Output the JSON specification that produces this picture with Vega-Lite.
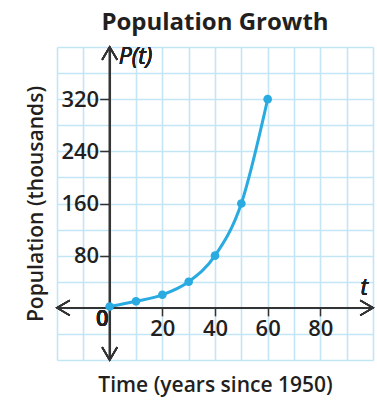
{
  "$schema": "https://vega.github.io/schema/vega-lite/v6.json",
  "autosize": "none",
  "width": 316,
  "height": 313,
  "padding": {"left": 57, "top": 47, "right": 4, "bottom": 44},
  "background": "white",
  "config": {
    "view": {"stroke": null},
    "font": "Open Sans",
    "axis": {"labelFont": "Open Sans", "titleFont": "Open Sans"}
  },
  "title": {
    "text": "Population Growth",
    "font": "Open Sans",
    "fontSize": 24,
    "fontWeight": "bold",
    "color": "#231f20",
    "anchor": "middle",
    "offset": 9
  },
  "data": {
    "values": [
      {"t": 0, "P": 2},
      {"t": 10, "P": 10},
      {"t": 20, "P": 20},
      {"t": 30, "P": 40},
      {"t": 40, "P": 80},
      {"t": 50, "P": 160},
      {"t": 60, "P": 320}
    ]
  },
  "resolve": {"axis": {"x": "independent", "y": "independent"}},
  "layer": [
    {
      "mark": {"type": "line", "interpolate": "monotone", "color": "#29abe2", "strokeWidth": 3},
      "encoding": {
        "x": {
          "field": "t", "type": "quantitative",
          "scale": {"domain": [-20, 100], "nice": false, "zero": false},
          "axis": {
            "orient": "bottom",
            "values": [-20, -10, 0, 10, 20, 30, 40, 50, 60, 70, 80, 90, 100],
            "grid": true, "gridColor": "#c4e5f6", "gridWidth": 1.6, "gridOpacity": 1,
            "labels": false, "ticks": false, "domain": false,
            "title": "Time (years since 1950)",
            "titleFontSize": 21, "titleFontWeight": 600, "titleColor": "#231f20",
            "titlePadding": 14
          }
        },
        "y": {
          "field": "P", "type": "quantitative",
          "scale": {"domain": [-80, 400], "nice": false, "zero": false},
          "axis": {
            "orient": "left",
            "values": [-80, -40, 0, 40, 80, 120, 160, 200, 240, 280, 320, 360, 400],
            "grid": true, "gridColor": "#c4e5f6", "gridWidth": 1.6, "gridOpacity": 1,
            "labels": false, "ticks": false, "domain": false,
            "title": "Population (thousands)",
            "titleFontSize": 21, "titleFontWeight": 600, "titleColor": "#231f20",
            "titlePadding": 11
          }
        }
      }
    },
    {
      "mark": {"type": "rule", "color": "#333333", "strokeWidth": 1.5},
      "encoding": {
        "x": {"datum": -20, "type": "quantitative", "axis": null},
        "x2": {"datum": 100},
        "y": {"datum": 0, "type": "quantitative", "axis": null}
      }
    },
    {
      "mark": {"type": "rule", "color": "#333333", "strokeWidth": 1.5},
      "encoding": {
        "x": {"datum": 0, "type": "quantitative", "axis": null},
        "y": {"datum": -80, "type": "quantitative", "axis": null},
        "y2": {"datum": 400}
      }
    },
    {
      "mark": {"type": "point", "shape": "M1.7,-1L0,0L1.7,1", "size": 225, "filled": false, "color": "#333333", "strokeWidth": 1.5, "opacity": 1},
      "encoding": {"x": {"datum": -20, "type": "quantitative", "axis": null}, "y": {"datum": 0, "type": "quantitative", "axis": null}}
    },
    {
      "mark": {"type": "point", "shape": "M-1.7,-1L0,0L-1.7,1", "size": 225, "filled": false, "color": "#333333", "strokeWidth": 1.5, "opacity": 1},
      "encoding": {"x": {"datum": 100, "type": "quantitative", "axis": null}, "y": {"datum": 0, "type": "quantitative", "axis": null}}
    },
    {
      "mark": {"type": "point", "shape": "M-1,1.7L0,0L1,1.7", "size": 225, "filled": false, "color": "#333333", "strokeWidth": 1.5, "opacity": 1},
      "encoding": {"x": {"datum": 0, "type": "quantitative", "axis": null}, "y": {"datum": 400, "type": "quantitative", "axis": null}}
    },
    {
      "mark": {"type": "point", "shape": "M-1,-1.7L0,0L1,-1.7", "size": 225, "filled": false, "color": "#333333", "strokeWidth": 1.5, "opacity": 1},
      "encoding": {"x": {"datum": 0, "type": "quantitative", "axis": null}, "y": {"datum": -80, "type": "quantitative", "axis": null}}
    },
    {
      "mark": {"type": "point", "filled": true, "size": 75, "color": "#29abe2", "opacity": 1},
      "encoding": {
        "x": {
          "field": "t", "type": "quantitative",
          "axis": {
            "orient": "bottom",
            "values": [20, 40, 60, 80], "offset": -52.17,
            "grid": false, "domain": false, "ticks": true, "tickSize": 8, "tickColor": "#333333", "tickWidth": 1.5,
            "labelFontSize": 22, "labelFontWeight": 600, "labelColor": "#231f20", "labelPadding": 3, "title": null
          }
        },
        "y": {
          "field": "P", "type": "quantitative",
          "axis": {
            "orient": "left",
            "values": [80, 160, 240, 320], "offset": -52.67,
            "grid": false, "domain": false, "ticks": true, "tickSize": 10, "tickColor": "#333333", "tickWidth": 1.5,
            "labelFontSize": 22, "labelFontWeight": 600, "labelColor": "#231f20", "labelPadding": 1, "title": null
          }
        }
      }
    },
    {
      "mark": {"type": "text", "text": "0", "fontSize": 22, "fontWeight": 600, "color": "#231f20", "align": "right", "baseline": "top", "dx": -1, "dy": 1},
      "encoding": {"x": {"datum": 0, "type": "quantitative", "axis": null}, "y": {"datum": 0, "type": "quantitative", "axis": null}}
    },
    {
      "mark": {"type": "text", "text": "P(t)", "fontSize": 23, "fontWeight": "normal", "fontStyle": "italic", "color": "#231f20", "align": "left", "baseline": "top", "dx": 9, "dy": -1},
      "encoding": {"x": {"datum": 0, "type": "quantitative", "axis": null}, "y": {"datum": 400, "type": "quantitative", "axis": null}}
    },
    {
      "mark": {"type": "text", "text": "t", "fontSize": 23, "fontWeight": "normal", "fontStyle": "italic", "color": "#231f20", "align": "right", "baseline": "bottom", "dx": -5, "dy": -8},
      "encoding": {"x": {"datum": 100, "type": "quantitative", "axis": null}, "y": {"datum": 0, "type": "quantitative", "axis": null}}
    }
  ]
}
